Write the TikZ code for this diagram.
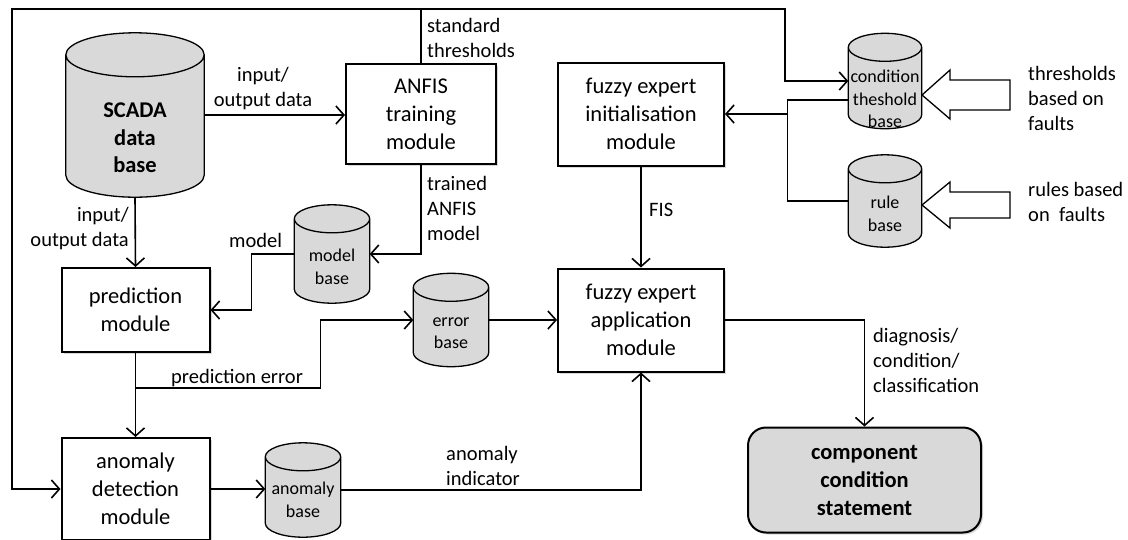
\documentclass[tikz,border=0pt]{standalone}
\usepackage{fontspec}
\setmainfont{Carlito}
\usetikzlibrary{arrows.meta,shadows,calc,positioning}

\tikzset{
  module/.style={draw, line width=2pt, fill=white, align=center, minimum width=148pt, minimum height=84pt,
    font=\fontsize{22.5}{28}\selectfont, drop shadow={shadow xshift=2pt,shadow yshift=-2pt,fill=black!30}},
  db/.style={inner sep=0pt, minimum width=75pt},
  dbpaint/.style={draw, line width=1.3pt, fill=gray!30},
  dbtext/.style={align=center, font=\fontsize{18}{22.5}\selectfont, inner sep=0pt},
  lbl/.style={align=left, anchor=west, font=\fontsize{20.5}{25}\selectfont, inner sep=0pt},
  line/.style={line width=1.6pt},
  flow/.style={line width=1.6pt, -{Straight Barb[length=8pt,width=18pt]}},
}

% cylinder drawn on the box of node #1, cap radius #2
\newcommand\dbcyl[2]{%
  \path[dbpaint] let \p1=(#1.north west), \p2=(#1.south east), \n1={(\x2-\x1)/2} in
    (\x1,{\y1-#2pt}) -- (\x1,{\y2+#2pt})
    arc[start angle=180, end angle=360, x radius=\n1, y radius=#2pt]
    -- (\x2,{\y1-#2pt})
    arc[start angle=0, end angle=180, x radius=\n1, y radius=#2pt] -- cycle
    (\x1,{\y1-#2pt}) arc[start angle=180, end angle=360, x radius=\n1, y radius=#2pt];}

\begin{document}
\begin{tikzpicture}[x=1pt,y=-1pt]
\useasboundingbox (0,0) rectangle (1128,539);

\node[db, minimum width=138pt, minimum height=164pt] (scada) at (135,115) {};
\node[db, minimum width=73pt, minimum height=95pt] (cbase) at (885,81) {};
\node[db, minimum width=73pt, minimum height=92pt] (rbase) at (885,201) {};
\node[db, minimum height=98pt] (mbase) at (332,254) {};
\node[db, minimum height=93pt] (ebase) at (451,320) {};
\node[db, minimum height=94pt] (abase) at (303,490) {};
\dbcyl{scada}{22}
\dbcyl{cbase}{14}
\dbcyl{rbase}{14}
\dbcyl{mbase}{14}
\dbcyl{ebase}{14}
\dbcyl{abase}{14}
\node[dbtext, font=\fontsize{22.5}{27.5}\selectfont\bfseries] (scadatxt) at (135,138) {SCADA\\data\\base};
\node[dbtext] (cbtxt) at (885,99) {condition\\theshold\\base};
\node[dbtext] (rbtxt) at (885,214) {rule\\base};
\node[dbtext] (mbtxt) at (332,267) {model\\base};
\node[dbtext] (ebtxt) at (451,333) {error\\base};
\node[dbtext] (abtxt) at (303,500) {anomaly\\base};

\node[module, minimum width=150pt, minimum height=100pt] (anfis) at (421,114) {ANFIS\\training\\module};
\node[module, minimum width=166pt, minimum height=103pt] (init) at (641,114) {fuzzy expert\\initialisation\\module};
\node[module, minimum width=166pt, minimum height=103pt] (app) at (641,320) {fuzzy expert\\application\\module};
\node[module] (pred) at (135.5,310) {prediction\\module};
\node[module, minimum height=102pt] (adet) at (135.5,489) {anomaly\\detection\\module};
\node[module, rounded corners=18pt, fill=gray!30, minimum width=233pt, minimum height=105pt,
  font=\fontsize{22.5}{28}\selectfont\bfseries] (comp) at (864.5,480) {component\\condition\\statement};

\coordinate (stdtop) at (anfis.north |- 0,9);
\coordinate (corner) at (12,9);
\coordinate (perr) at (pred.south |- 0,388);
\coordinate (join) at (init.east -| 788,0);

\draw[line] (anfis.north) -- (stdtop);
\draw[flow] (stdtop) -- (corner) |- (adet.west);
\draw[flow] (stdtop) -- (785,9) |- (cbase.west);
\draw[flow] (scada.east) -- (anfis.west |- scada.east);
\draw[flow] (scada.south) -- (pred.north);
\draw[flow] (anfis.south) |- (mbase.east);
\draw[flow] (mbase.west) -- ++(-43,0) |- (pred.east);
\draw[flow] (pred.south) -- (adet.north);
\draw[flow] (perr) -- ++(185,0) |- (ebase.west);
\draw[flow] (ebase.east) -- (app.west);
\draw[flow] (adet.east) -- (adet.east -| abase.west);
\draw[flow] (abase.east) -| (app.south);
\draw[flow] (init.south) -- (app.north);
\draw[flow] (app.east) -| (comp.north);
\draw[line] ($(cbase.west)+(0,19)$) -- ++(-61,0) |- (rbase.west);
\draw[flow] (join) -- (init.east);

\draw[line width=1.3pt, fill=white] (922,95) -- (950,70) -- (950,80) -- (1010,80) -- (1010,110) -- (950,110) -- (950,119) -- cycle;
\draw[line width=1.3pt, fill=white] (922,205) -- (950,182) -- (950,192) -- (1010,192) -- (1010,218) -- (950,218) -- (950,228) -- cycle;

\node[lbl] (lstd) at (427,38) {standard\\thresholds};
\node[lbl, align=center, anchor=center] (lio1) at (263,89) {input/\\output data};
\node[lbl, align=right, anchor=east] (lio2) at (129,229) {input/\\output data};
\node[lbl] (ltrain) at (427,208) {trained\\ANFIS\\model};
\node[lbl] (lmodel) at (229,240) {model};
\node[lbl] (lperr) at (171,378) {prediction error};
\node[lbl] (lfis) at (649,210) {FIS};
\node[lbl] (lanom) at (446,466) {anomaly\\indicator};
\node[lbl] (ldiag) at (873,360) {diagnosis/\\condition/\\classification};
\node[lbl] (lthr) at (1028,98) {thresholds\\based on\\faults};
\node[lbl] (lrul) at (1028,202) {rules based\\on\ \ faults};
\end{tikzpicture}
\end{document}
